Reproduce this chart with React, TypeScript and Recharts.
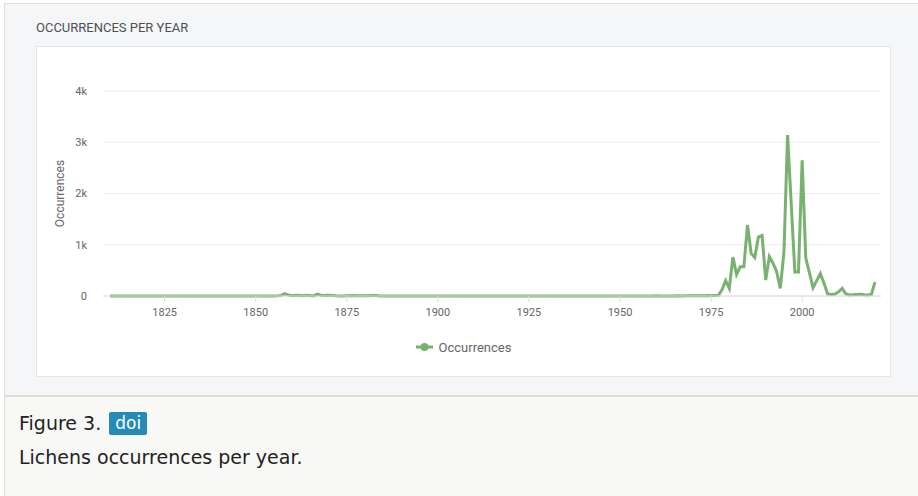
import { LineChart, Line, XAxis, YAxis, CartesianGrid, Legend } from 'recharts';

// years on the x axis, one row per decade
const years = [
  1810, 1811, 1812, 1813, 1814, 1815, 1816, 1817, 1818, 1819,
  1820, 1821, 1822, 1823, 1824, 1825, 1826, 1827, 1828, 1829,
  1830, 1831, 1832, 1833, 1834, 1835, 1836, 1837, 1838, 1839,
  1840, 1841, 1842, 1843, 1844, 1845, 1846, 1847, 1848, 1849,
  1850, 1851, 1852, 1853, 1854, 1855, 1856, 1857, 1858, 1859,
  1860, 1861, 1862, 1863, 1864, 1865, 1866, 1867, 1868, 1869,
  1870, 1871, 1872, 1873, 1874, 1875, 1876, 1877, 1878, 1879,
  1880, 1881, 1882, 1883, 1884, 1885, 1886, 1887, 1888, 1889,
  1890, 1891, 1892, 1893, 1894, 1895, 1896, 1897, 1898, 1899,
  1900, 1901, 1902, 1903, 1904, 1905, 1906, 1907, 1908, 1909,
  1910, 1911, 1912, 1913, 1914, 1915, 1916, 1917, 1918, 1919,
  1920, 1921, 1922, 1923, 1924, 1925, 1926, 1927, 1928, 1929,
  1930, 1931, 1932, 1933, 1934, 1935, 1936, 1937, 1938, 1939,
  1940, 1941, 1942, 1943, 1944, 1945, 1946, 1947, 1948, 1949,
  1950, 1951, 1952, 1953, 1954, 1955, 1956, 1957, 1958, 1959,
  1960, 1961, 1962, 1963, 1964, 1965, 1966, 1967, 1968, 1969,
  1970, 1971, 1972, 1973, 1974, 1975, 1976, 1977, 1978, 1979,
  1980, 1981, 1982, 1983, 1984, 1985, 1986, 1987, 1988, 1989,
  1990, 1991, 1992, 1993, 1994, 1995, 1996, 1997, 1998, 1999,
  2000, 2001, 2002, 2003, 2004, 2005, 2006, 2007, 2008, 2009,
  2010, 2011, 2012, 2013, 2014, 2015, 2016, 2017, 2018, 2019,
  2020,
];

// occurrences per year, same layout as years
const occurrences = [
  0, 0, 0, 0, 0, 0, 0, 0, 0, 0,
  0, 0, 0, 0, 0, 0, 0, 0, 0, 0,
  0, 0, 0, 0, 0, 0, 0, 0, 0, 0,
  0, 0, 0, 0, 0, 0, 0, 0, 0, 0,
  0, 0, 0, 0, 0, 0, 3, 12, 48, 18,
  6, 14, 9, 4, 16, 5, 7, 38, 12, 9,
  16, 10, 4, 2, 2, 4, 6, 10, 7, 5,
  4, 6, 12, 8, 2, 0, 0, 0, 0, 0,
  0, 0, 0, 0, 0, 0, 0, 0, 0, 0,
  0, 0, 0, 0, 0, 0, 0, 0, 0, 0,
  0, 0, 0, 0, 0, 0, 0, 0, 0, 0,
  0, 0, 0, 0, 0, 0, 0, 0, 0, 0,
  0, 0, 0, 0, 0, 0, 0, 0, 0, 0,
  0, 0, 0, 0, 0, 0, 0, 0, 0, 0,
  0, 2, 1, 0, 0, 0, 1, 0, 0, 2,
  3, 2, 1, 0, 2, 1, 3, 2, 4, 3,
  5, 4, 6, 5, 8, 6, 10, 15, 120, 300,
  150, 760, 420, 570, 570, 1385, 830, 750, 1150, 1180,
  310, 770, 640, 475, 150, 850, 3140, 1800, 470, 470,
  2650, 740, 450, 160, 300, 440, 250, 40, 30, 40,
  80, 150, 40, 20, 25, 30, 35, 25, 20, 30,
  270,
];

const xTicks = [1825, 1850, 1875, 1900, 1925, 1950, 1975, 2000];
const yTicks = [0, 1000, 2000, 3000, 4000];

const chartData = years.map((year, i) => ({ year, Occurrences: occurrences[i] }));

const lineColor = '#79b171';
const tickStyle = { fontSize: 11, fill: '#666', fontFamily: 'Roboto' };

// legend item: line with a filled dot, then the series name
function LegendContent({ payload }) {
  return (
    <div
      style={{
        height: 20, display: 'flex', justifyContent: 'center', alignItems: 'center',
        paddingLeft: 10, fontFamily: 'Roboto', fontSize: 13, color: '#666',
      }}
    >
      {(payload || []).map((entry) => (
        <div key={entry.value} style={{ display: 'flex', alignItems: 'center' }}>
          <svg width={17} height={10} style={{ marginRight: 6 }}>
            <line x1={0} y1={5} x2={17} y2={5} stroke={entry.color} strokeWidth={3} />
            <circle cx={8.5} cy={5} r={4} fill={entry.color} />
          </svg>
          <span>{entry.value}</span>
        </div>
      ))}
    </div>
  );
}

export default function App() {
  return (
    <div style={{ position: 'relative', width: 918, height: 496, background: '#fff', overflow: 'hidden' }}>
      <style>{'body{margin:0}'}</style>

      {/* chart panel */}
      <div
        style={{
          position: 'absolute', left: 4, top: 3, width: 920, height: 391,
          background: '#f5f6f8', borderTop: '1px solid #dddcd6', borderLeft: '1px solid #dddcd6',
          borderBottom: '1px solid #dddcd6',
        }}
      />
      <div
        style={{
          position: 'absolute', left: 36, top: 20, fontFamily: 'Roboto', fontSize: 13,
          color: '#505050', whiteSpace: 'nowrap',
        }}
      >
        OCCURRENCES PER YEAR
      </div>
      <div
        style={{
          position: 'absolute', left: 36, top: 46, width: 853, height: 329,
          background: '#fff', border: '1px solid #e2e5e9',
        }}
      />
      <div style={{ position: 'absolute', left: 36, top: 46 }}>
        <LineChart width={854} height={330} data={chartData} margin={{ top: 45, right: 9, left: 0, bottom: 19 }}>
          <CartesianGrid vertical={false} stroke="#ebebeb" />
          <XAxis
            dataKey="year"
            type="number"
            domain={[1810, 2020]}
            ticks={xTicks}
            padding={{ left: 7, right: 6 }}
            height={41}
            tick={tickStyle}
            tickMargin={6}
            axisLine={{ stroke: '#dcdcdc' }}
            tickLine={{ stroke: '#dcdcdc' }}
          />
          <YAxis
            width={67}
            domain={[0, 4000]}
            ticks={yTicks}
            tickFormatter={(v) => (v === 0 ? '0' : `${v / 1000}k`)}
            tick={tickStyle}
            axisLine={false}
            tickLine={false}
            tickMargin={10}
            label={{
              value: 'Occurrences', angle: -90, position: 'insideLeft', offset: 24,
              style: { textAnchor: 'middle', fontSize: 12, fill: '#666', fontFamily: 'Roboto' },
            }}
          />
          <Legend verticalAlign="bottom" content={LegendContent} />
          <Line
            type="linear"
            dataKey="Occurrences"
            stroke={lineColor}
            strokeWidth={3}
            dot={false}
            isAnimationActive={false}
          />
        </LineChart>
      </div>

      {/* caption */}
      <div
        style={{
          position: 'absolute', left: 4, top: 396, width: 920, height: 100,
          background: '#f8f8f6', borderTop: '1px solid #dddcd6', borderLeft: '1px solid #dddcd6',
        }}
      />
      <div
        style={{
          position: 'absolute', left: 19, top: 411, fontFamily: 'DejaVu Sans', fontSize: 19,
          color: '#222', whiteSpace: 'nowrap', lineHeight: '25px',
        }}
      >
        Figure 3.{' '}
        <span
          style={{
            display: 'inline-block', background: '#238bb5', color: '#fff', padding: '0 6px',
            borderRadius: 2, fontSize: 17, lineHeight: '23px', verticalAlign: 'top', marginTop: 1,
            marginLeft: 2,
          }}
        >
          doi
        </span>
      </div>
      <div
        style={{
          position: 'absolute', left: 19, top: 445, fontFamily: 'DejaVu Sans', fontSize: 19,
          color: '#222', whiteSpace: 'nowrap', lineHeight: '24px',
        }}
      >
        Lichens occurrences per year.
      </div>
    </div>
  );
}
